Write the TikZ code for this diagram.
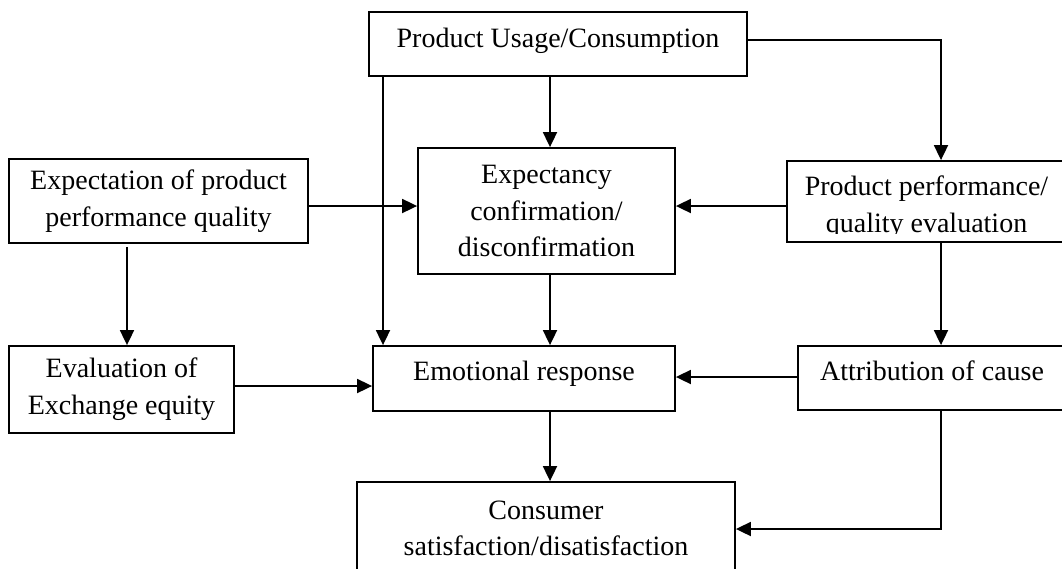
\documentclass[tikz,border=0pt]{standalone}
\usepackage{fontspec}
\setmainfont{Liberation Serif}
\usetikzlibrary{arrows.meta}
\begin{document}
\begin{tikzpicture}[x=1pt,y=-1pt,
  box/.style={draw, line width=1.8pt, inner sep=0pt, align=center,
    font=\fontsize{28}{36.7}\selectfont},
  arr/.style={line width=1.8pt, -{Triangle[length=15pt,width=14pt]}}]
\useasboundingbox (0,0) rectangle (1062,568);

% boxes
\node[box, minimum width=378pt, minimum height=64pt, text height=19pt, text depth=13pt]
  (usage) at (558,44) {Product Usage/Consumption};
\node[box, minimum width=257pt, minimum height=126pt]
  (expc) at (546.5,211) {Expectancy\\confirmation/\\disconfirmation};
\node[box, minimum width=299pt, minimum height=84pt]
  (expt) at (158.5,201) {Expectation of product\\performance quality};
\node[box, minimum width=279pt, minimum height=81pt]
  (perf) at (926.5,201.5) {\rule{0pt}{31pt}Product performance/\\quality evaluation};
% bottom line of this box cuts the descenders
\fill[white] (790,233.5) rectangle (1062,240.4);
\node[box, minimum width=225pt, minimum height=87pt]
  (eval) at (121.5,389.5) {Evaluation of\\Exchange equity};
\node[box, minimum width=302pt, minimum height=65pt, text height=19pt, text depth=16pt]
  (emo) at (524,378.5) {Emotional response};
\node[box, minimum width=268pt, minimum height=64pt, text height=19pt, text depth=15pt]
  (attr) at (932,378) {Attribution of cause};
\node[box, minimum width=378pt, minimum height=93pt]
  (cons) at (546,528.5) {Consumer\\satisfaction/disatisfaction};

% connector guide lines
\coordinate (cU) at (550,0);
\coordinate (cL) at (383,0);
\coordinate (cR) at (941,0);
\coordinate (cE) at (127,0);
\coordinate (yU) at (0,40);
\coordinate (yA) at (0,206);
\coordinate (yB) at (0,386);
\coordinate (yC) at (0,377);
\coordinate (yD) at (0,529);

% connectors
\draw[arr] (usage.south -| cU) -- (expc.north -| cU);
\draw[arr] (usage.south -| cL) -- (emo.north -| cL);
\draw[arr] (usage.east |- yU) -| (perf.north -| cR);
\draw[arr] (expt.east |- yA) -- (expc.west |- yA);
\draw[arr] (perf.west |- yA) -- (expc.east |- yA);
\draw[arr, shorten <=3pt] (expt.south -| cE) -- (eval.north -| cE);
\draw[arr] (expc.south -| cU) -- (emo.north -| cU);
\draw[arr] (eval.east |- yB) -- (emo.west |- yB);
\draw[arr] (attr.west |- yC) -- (emo.east |- yC);
\draw[arr] (perf.south -| cR) -- (attr.north -| cR);
\draw[arr] (emo.south -| cU) -- (cons.north -| cU);
\draw[arr] (attr.south -| cR) |- (cons.east |- yD);
\end{tikzpicture}
\end{document}
